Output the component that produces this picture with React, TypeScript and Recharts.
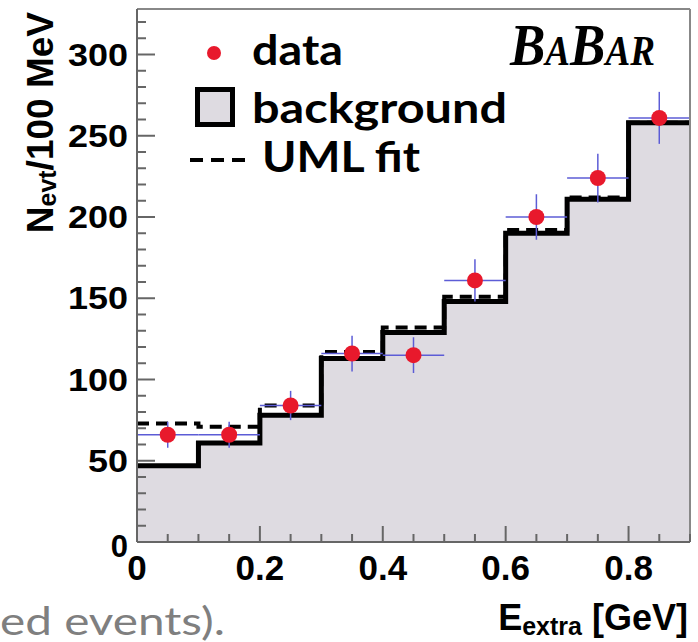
import {
  ComposedChart,
  Area,
  Line,
  Scatter,
  ErrorBar,
  XAxis,
  YAxis,
  ReferenceLine,
  Label,
} from "recharts";

// bin edges of the E_extra histogram (GeV)
const binEdges = [0, 0.1, 0.2, 0.3, 0.4, 0.5, 0.6, 0.7, 0.8, 0.9];
// expected background per bin
const background = [47, 61, 78, 113, 129, 148, 190, 211, 258];
// unbinned maximum likelihood fit per bin
const umlFit = [73, 71, 84, 117, 132, 151, 192, 212, 258];

// data points at bin centres
const binCenters = [0.05, 0.15, 0.25, 0.35, 0.45, 0.55, 0.65, 0.75, 0.85];
const dataCounts = [66, 66, 84, 116, 115, 161, 200, 224, 261];
const dataErrors = [8, 8, 9, 11, 11, 13, 14, 15, 16];
const halfBin = 0.05;

const xTicks = [
  0, 0.05, 0.1, 0.15, 0.2, 0.25, 0.3, 0.35, 0.4, 0.45, 0.5, 0.55, 0.6, 0.65,
  0.7, 0.75, 0.8, 0.85, 0.9,
];
const xMajor = [0, 0.2, 0.4, 0.6, 0.8];
const yTicks = [
  0, 10, 20, 30, 40, 50, 60, 70, 80, 90, 100, 110, 120, 130, 140, 150, 160,
  170, 180, 190, 200, 210, 220, 230, 240, 250, 260, 270, 280, 290, 300, 310,
  320,
];
const yMax = 328;

const W = 698;
const H = 642;
const RED = "#e8192c";
const FILL = "#dedbe1";
const AXIS = "#666";
const ROOT_FONT = "'Liberation Sans', Arial, Helvetica, sans-serif";
const SLIDE_FONT = "Lato, 'Open Sans', sans-serif";

// step histograms need the last value repeated at the right edge
const histo = binEdges.map((x, i) => ({
  x,
  bkg: background[Math.min(i, background.length - 1)],
  fit: umlFit[Math.min(i, umlFit.length - 1)],
}));

const points = binCenters.map((x, i) => ({
  x,
  y: dataCounts[i],
  ey: dataErrors[i],
  ex: halfBin,
}));

function YTick({ x, y, payload }: any) {
  const v = payload.value as number;
  const major = v % 50 === 0;
  const label = String(v);
  // the y labels are drawn a little wider than plain Helvetica
  const stretch = label.length > 1 ? { textLength: label.length * 20, lengthAdjust: "spacingAndGlyphs" } : {};
  return (
    <g>
      <line x1={x} y1={y} x2={x + (major ? 18 : 9)} y2={y} stroke={AXIS} strokeWidth={2} />
      {major && (
        <text
          x={x - 9}
          y={y + (v === 0 ? 15 : 11)}
          textAnchor="end"
          fontFamily={ROOT_FONT}
          fontWeight="bold"
          fontSize={31}
          fill="#000"
          {...stretch}
        >
          {label}
        </text>
      )}
    </g>
  );
}

function XTick({ x, y, payload }: any) {
  const v = payload.value as number;
  const major = xMajor.some((m) => Math.abs(m - v) < 1e-6);
  return (
    <g>
      <line x1={x} y1={y} x2={x} y2={y - (major ? 16 : 8)} stroke={AXIS} strokeWidth={2} />
      {major && (
        <text
          x={x}
          y={y + 38}
          textAnchor="middle"
          fontFamily={ROOT_FONT}
          fontWeight="bold"
          fontSize={35}
          fill="#000"
        >
          {String(v)}
        </text>
      )}
    </g>
  );
}

function YTitle({ viewBox }: any) {
  const x = viewBox.x + 53;
  const y = viewBox.y + 3;
  return (
    <text
      x={x}
      y={y}
      transform={`rotate(-90, ${x}, ${y})`}
      textAnchor="end"
      fontFamily={ROOT_FONT}
      fontWeight="bold"
      fontSize={37}
      fill="#000"
    >
      N
      <tspan fontSize={25} dy={3}>evt</tspan>
      <tspan dy={-3}>/100 MeV</tspan>
    </text>
  );
}

function XTitle({ viewBox }: any) {
  const x = viewBox.x + viewBox.width - 2;
  const y = viewBox.y + 88;
  return (
    <text
      x={x}
      y={y}
      textAnchor="end"
      fontFamily={ROOT_FONT}
      fontWeight="bold"
      fontSize={36}
      fill="#000"
    >
      E
      <tspan fontSize={25} dy={5}>extra</tspan>
      <tspan dy={-5}> [GeV]</tspan>
    </text>
  );
}

function DataDot({ cx, cy }: any) {
  return <circle cx={cx} cy={cy} r={8} fill={RED} />;
}

function Overlay() {
  return (
    <svg
      width={W}
      height={H}
      style={{ position: "absolute", left: 0, top: 0, pointerEvents: "none" }}
    >
      <g fontFamily={SLIDE_FONT} fontWeight="bold" fontSize={42} fill="#000">
        <circle cx={214} cy={53} r={7} fill={RED} />
        <text x={252} y={65} textLength={91} lengthAdjust="spacingAndGlyphs">
          data
        </text>
        <rect x={197.5} y={89.5} width={35} height={35} fill={FILL} stroke="#000" strokeWidth={5} />
        <text x={252} y={123} textLength={255} lengthAdjust="spacingAndGlyphs">
          background
        </text>
        <line x1={190} y1={160} x2={250} y2={160} stroke="#000" strokeWidth={4} strokeDasharray="13 8" />
        <text x={262} y={172} textLength={158} lengthAdjust="spacingAndGlyphs">
          UML fit
        </text>
      </g>
      {/* experiment logo, small caps serif */}
      <text
        x={510}
        y={65}
        fontFamily="'Liberation Serif', 'DejaVu Serif', serif"
        fontWeight="bold"
        fontStyle="italic"
        fontSize={60}
        fill="#000"
        style={{ fontVariant: "small-caps" }}
        textLength={145}
        lengthAdjust="spacingAndGlyphs"
      >
        BaBar
      </text>
      <text
        x={0}
        y={635}
        fontFamily={SLIDE_FONT}
        fontSize={38}
        fill="#7f7f7f"
        textLength={225}
        lengthAdjust="spacingAndGlyphs"
      >
        ed events).
      </text>
    </svg>
  );
}

export default function App() {
  return (
    <div style={{ position: "absolute", left: 0, top: 0, width: W, height: H, background: "#fff" }}>
      <ComposedChart
        width={W}
        height={H}
        data={histo}
        margin={{ top: 9, right: 8, left: 0, bottom: 0 }}
      >
        <Area
          type="stepAfter"
          dataKey="bkg"
          stroke="#000"
          strokeWidth={5}
          fill={FILL}
          fillOpacity={1}
          dot={false}
          activeDot={false}
          isAnimationActive={false}
        />
        <Line
          type="stepAfter"
          dataKey="fit"
          stroke="#000"
          strokeWidth={4}
          strokeDasharray="12 7"
          dot={false}
          activeDot={false}
          isAnimationActive={false}
        />
        <Scatter data={points} dataKey="y" shape={<DataDot />} isAnimationActive={false}>
          <ErrorBar dataKey="ey" direction="y" width={0} stroke="#5c5cd6" strokeWidth={1.5} />
          <ErrorBar dataKey="ex" direction="x" width={0} stroke="#5c5cd6" strokeWidth={1.5} />
        </Scatter>
        <ReferenceLine y={yMax} stroke="#888" strokeWidth={2} />
        <ReferenceLine x={0.9} stroke="#888" strokeWidth={2} />
        <XAxis
          type="number"
          dataKey="x"
          domain={[0, 0.9]}
          ticks={xTicks}
          interval={0}
          tickSize={0}
          tickMargin={0}
          tickLine={false}
          axisLine={{ stroke: AXIS, strokeWidth: 2 }}
          tick={<XTick />}
          height={100}
          allowDataOverflow
        >
          <Label content={<XTitle />} />
        </XAxis>
        <YAxis
          type="number"
          domain={[0, yMax]}
          ticks={yTicks}
          interval={0}
          tickSize={0}
          tickMargin={0}
          tickLine={false}
          axisLine={{ stroke: AXIS, strokeWidth: 2 }}
          tick={<YTick />}
          width={137}
          allowDataOverflow
        >
          <Label content={<YTitle />} />
        </YAxis>
      </ComposedChart>
      <Overlay />
    </div>
  );
}
